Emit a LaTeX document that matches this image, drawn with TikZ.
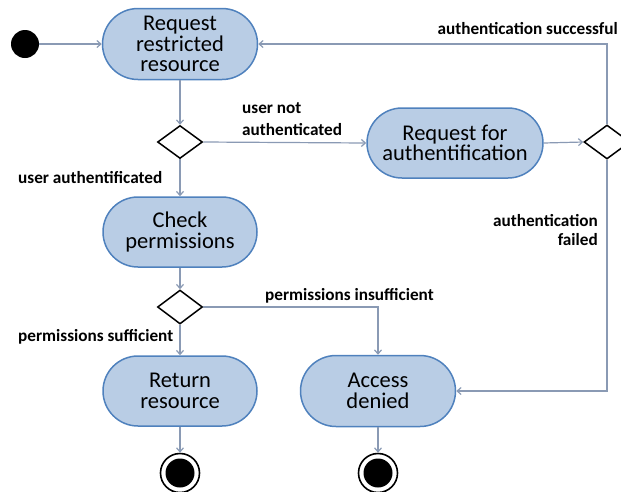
\documentclass[tikz,border=0pt]{standalone}
\usepackage{fontspec}
\setmainfont{Carlito}
\usetikzlibrary{shapes.geometric,shapes.misc,arrows.meta}

\definecolor{actfill}{RGB}{185,205,229}
\definecolor{actline}{RGB}{79,129,189}
\definecolor{flow}{RGB}{138,154,180}

\tikzset{
  activity/.style={rounded rectangle, draw=actline, fill=actfill, line width=1.5pt,
    align=center, inner sep=0pt, font=\fontsize{22.5}{20.5}\selectfont},
  choice/.style={diamond, draw=black, fill=white, line width=1.5pt, inner sep=0pt,
    minimum width=45pt, minimum height=33pt},
  initial/.style={circle, fill=black, inner sep=0pt, minimum size=28pt},
  final/.style={circle, draw=black, line width=1.6pt, fill=white, inner sep=0pt,
    minimum size=39pt,
    path picture={\fill[black] (path picture bounding box.center) circle (14.5pt);}},
  flowline/.style={draw=flow, line width=1.2pt, -{Straight Barb[length=4pt,width=7pt]}},
  guard/.style={font=\bfseries\fontsize{17.2}{18}\selectfont, inner sep=0pt}
}

\begin{document}
\begin{tikzpicture}[x=1pt,y=-1pt]
  \useasboundingbox (0,0) rectangle (621,491);

  % start and end points
  \node[initial] (start) at (25,44) {};
  \node[final] (end1) at (180,473) {};
  \node[final] (end2) at (378,473) {};

  % activities
  \node[activity, minimum width=155pt, minimum height=71pt] (request) at (180,44)
    {Request\\restricted\\resource};
  \node[activity, minimum width=176pt, minimum height=70pt] (auth) at (455,143)
    {Request for\\authentification};
  \node[activity, minimum width=154pt, minimum height=70pt] (check) at (180,232)
    {Check\\permissions};
  \node[activity, minimum width=154pt, minimum height=70pt] (return) at (180,391)
    {Return\\resource};
  \node[activity, minimum width=155pt, minimum height=71pt] (denied) at (378,391)
    {Access\\denied};

  % decisions
  \node[choice] (isauth) at (180,142) {};
  \node[choice, minimum width=46pt, minimum height=34pt] (authok) at (607,142) {};
  \node[choice, minimum height=34pt] (permok) at (180,307) {};

  % bend points
  \coordinate (topright) at (authok.north |- request.east);
  \coordinate (botright) at (authok.south |- denied.east);
  \coordinate (permbend) at (denied.north |- permok.east);

  % flows
  \draw[flowline] (start) -- (request.west);
  \draw[flowline] (request.south) -- (isauth.north);
  \draw[flowline] (isauth.east) -- (auth.west);
  \draw[flowline] (auth.east) -- (authok.west);
  \draw[flowline] (authok.north) -- (topright) -- (request.east);
  \draw[flowline] (authok.south) -- (botright) -- (denied.east);
  \draw[flowline] (isauth.south) -- (check.north);
  \draw[flowline] (check.south) -- (permok.north);
  \draw[flowline] (permok.south) -- (return.north);
  \draw[flowline] (permok.east) -- (permbend) -- (denied.north);
  \draw[flowline] (return.south) -- (end1.north);
  \draw[flowline] (denied.south) -- (end2.north);

  % guard labels
  \node[guard, anchor=base east] (lsucc) at (618,34) {authentication successful};
  \node[guard, anchor=base west] (lnot1) at (242,113) {user not};
  \node[guard, anchor=base west] (lnot2) at (242,135) {authenticated};
  \node[guard, anchor=base west] (lyes) at (18,183) {user authentificated};
  \node[guard, anchor=base east] (lfail1) at (598,226) {authentication};
  \node[guard, anchor=base east] (lfail2) at (598,245) {failed};
  \node[guard, anchor=base west] (linsuf) at (265,300) {permissions insufficient};
  \node[guard, anchor=base west] (lsuf) at (18,341) {permissions sufficient};
\end{tikzpicture}
\end{document}
